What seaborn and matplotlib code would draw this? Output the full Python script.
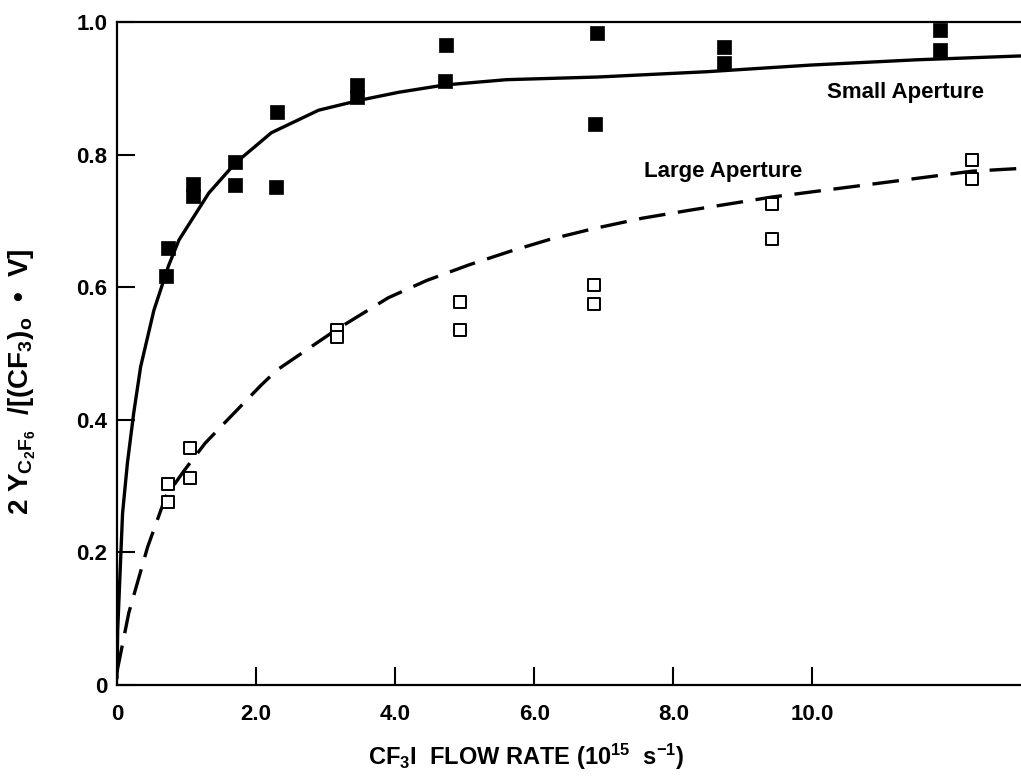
import numpy as np
import matplotlib
matplotlib.use("Agg")
import matplotlib.pyplot as plt
import pandas as pd
import seaborn as sb

# punkty pomiarowe
small_x = [0.73, 0.70, 1.09, 1.09, 1.70, 1.70, 2.30, 2.29, 3.45, 3.45,
           4.73, 4.71, 6.90, 6.87, 8.73, 8.73, 11.84, 11.84]
small_y = [0.659, 0.617, 0.756, 0.738, 0.789, 0.754, 0.864, 0.751, 0.905, 0.887,
           0.965, 0.911, 0.983, 0.846, 0.962, 0.938, 0.988, 0.958]

large_x = [0.73, 0.73, 1.05, 1.05, 3.16, 3.16, 4.93, 4.93, 6.86, 6.86,
           9.42, 9.42, 12.3, 12.3]
large_y = [0.303, 0.276, 0.357, 0.312, 0.535, 0.525, 0.578, 0.535, 0.603, 0.575,
           0.725, 0.673, 0.792, 0.763]

# krzywe dopasowania
small_fit_x = [0.0, 0.01, 0.05, 0.08, 0.15, 0.24, 0.34, 0.53, 0.74, 0.89, 1.32, 1.70,
               2.22, 2.9, 3.49, 4.05, 4.71, 5.60, 6.91, 8.48, 9.97, 11.5, 13.3]
small_fit_y = [0.01, 0.083, 0.184, 0.259, 0.335, 0.41, 0.480, 0.565, 0.632, 0.671, 0.742, 0.787,
               0.833, 0.867, 0.882, 0.894, 0.905, 0.913, 0.917, 0.925, 0.935, 0.943, 0.950]

large_fit_x = [0.0, 0.17, 0.44, 0.70, 0.97, 1.27, 1.59, 2.07, 2.30, 3.14, 3.90, 4.45,
               5.07, 5.65, 6.22, 6.84, 7.55, 8.23, 9.42, 12.3, 13.3]
large_fit_y = [0.02, 0.109, 0.208, 0.284, 0.324, 0.365, 0.40, 0.452, 0.475, 0.535, 0.584, 0.610,
               0.634, 0.654, 0.672, 0.688, 0.704, 0.716, 0.736, 0.775, 0.781]

x_ticks = [0, 2, 4, 6, 8, 10]
x_tick_labels = ["0", "2.0", "4.0", "6.0", "8.0", "10.0"]
y_ticks = [0, 0.2, 0.4, 0.6, 0.8, 1.0]
y_tick_labels = ["0", "0.2", "0.4", "0.6", "0.8", "1.0"]

sb.set_style("ticks")
plt.rcParams['font.family'] = ['Liberation Sans', 'DejaVu Sans']
plt.rcParams['mathtext.fontset'] = 'custom'
plt.rcParams['mathtext.rm'] = 'Liberation Sans:bold'
plt.rcParams['mathtext.it'] = 'Liberation Sans:bold'
plt.rcParams['mathtext.bf'] = 'Liberation Sans:bold'
for key in ['text.color', 'axes.labelcolor', 'xtick.color', 'ytick.color', 'axes.edgecolor']:
    plt.rcParams[key] = 'black'

fig = plt.figure(figsize=(10.21, 7.79), dpi=100)
ax = fig.add_axes([117 / 1021, 94 / 779, 904 / 1021, 663 / 779])

sb.lineplot(x=small_fit_x, y=small_fit_y, ax=ax, color='black', lw=2.4,
            estimator=None, sort=False)
sb.lineplot(x=large_fit_x, y=large_fit_y, ax=ax, color='black', lw=2.4,
            estimator=None, sort=False)
ax.lines[-1].set_dashes((8, 3.8))

sb.scatterplot(x=small_x, y=small_y, ax=ax, marker='s', s=90, color='black',
               edgecolor='black', linewidth=0.5, zorder=3)
sb.scatterplot(x=large_x, y=large_y, ax=ax, marker='s', s=75, facecolor='white',
               edgecolor='black', linewidth=1.4, zorder=3)

ax.text(11.34, 0.894, "Small Aperture", ha='center', va='center', fontsize=16,
        fontweight='bold')
ax.text(8.71, 0.774, "Large Aperture", ha='center', va='center', fontsize=16,
        fontweight='bold')

ax.set_xlim(0, 13.0)
ax.set_ylim(0, 1.0)
ax.set_xticks(x_ticks)
ax.set_xticklabels(x_tick_labels)
ax.set_yticks(y_ticks)
ax.set_yticklabels(y_tick_labels)
ax.tick_params(axis='both', direction='in', length=13, width=1.5, labelsize=16,
               colors='black')
ax.tick_params(axis='x', pad=14)
ax.tick_params(axis='y', pad=7)
for lab in ax.get_xticklabels() + ax.get_yticklabels():
    lab.set_fontweight('bold')

for side in ['left', 'bottom', 'top']:
    ax.spines[side].set_linewidth(1.6)
    ax.spines[side].set_color('black')
ax.spines['right'].set_visible(False)

ax.set_xlabel(r"CF$_3$I  FLOW RATE (10$^{15}$  s$^{-1}$)", fontsize=17,
              fontweight='bold')
ax.xaxis.set_label_coords(0.453, -0.085)
ax.set_ylabel(r"2 Y$_{\mathrm{C_2F_6}}$  /[(CF$_3$)$_\mathrm{o}$  •  V]", fontsize=20,
              fontweight='bold')
ax.yaxis.set_label_coords(-0.087, 0.458)

fig.savefig("out.png", dpi=100)
